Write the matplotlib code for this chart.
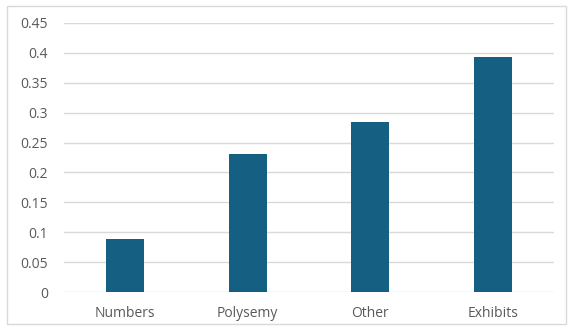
import matplotlib
matplotlib.use("Agg")
import matplotlib.pyplot as plt
from matplotlib.patches import Rectangle

categories = ["Numbers", "Polysemy", "Other", "Exhibits"]
values = [0.088, 0.231, 0.285, 0.393]
yticks = [0, 0.05, 0.1, 0.15, 0.2, 0.25, 0.3, 0.35, 0.4, 0.45]
ytick_labels = ["0", "0.05", "0.1", "0.15", "0.2", "0.25", "0.3", "0.35", "0.4", "0.45"]

plt.rcParams['font.family'] = ['Open Sans', 'DejaVu Sans']

fig = plt.figure(figsize=(5.69, 3.26), dpi=100)
ax = fig.add_axes([64 / 569, 34 / 326, 490 / 569, 269 / 326])

# chart border
fig.patches.append(Rectangle((7 / 569, 2 / 326), 559 / 569, 318 / 326,
                             transform=fig.transFigure, fill=False,
                             edgecolor='#d9d9d9', linewidth=1))

x = range(len(categories))
ax.bar(x, values, width=0.31, color='#156082', zorder=3)

ax.set_xlim(-0.5, 3.5)
ax.set_ylim(0, 0.45)
ax.set_yticks(yticks)
ax.set_yticklabels(ytick_labels)
ax.set_xticks(list(x))
ax.set_xticklabels(categories)
ax.grid(axis='y', color='#d9d9d9', linewidth=1, zorder=0)
ax.tick_params(axis='both', length=0, colors='#595959', labelsize=10)
ax.tick_params(axis='y', pad=11.5)
ax.tick_params(axis='x', pad=10)
for s in ax.spines.values():
    s.set_visible(False)

fig.savefig("out.png", dpi=100)
